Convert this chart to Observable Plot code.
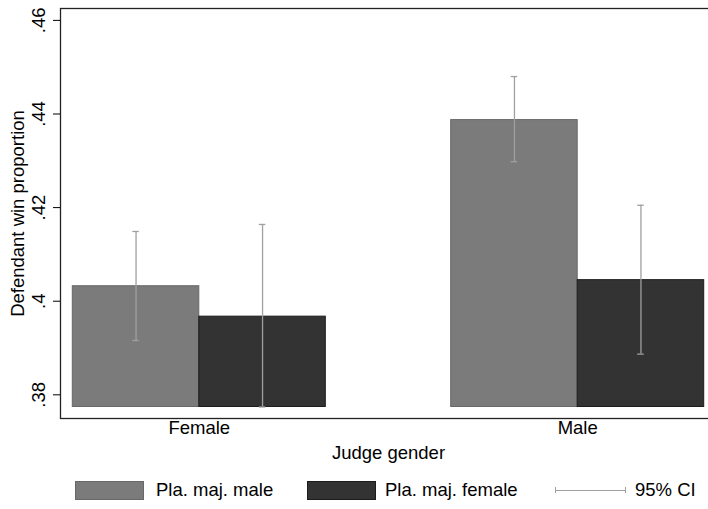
<!DOCTYPE html>
<html>
<head>
<meta charset="utf-8">
<script src="https://cdn.jsdelivr.net/npm/d3@7"></script>
<script src="https://cdn.jsdelivr.net/npm/@observablehq/plot@0.6"></script>
<style>
  html, body { margin: 0; padding: 0; background: #fff; }
  #wrap { position: relative; width: 708px; height: 509px; overflow: hidden;
          font-family: "Liberation Sans", Arial, Helvetica, sans-serif; color: #000; }
  #chart svg { max-width: none !important; display: block; }
  #legend { position: absolute; left: 0; top: 465px; width: 708px; height: 44px; font-size: 18.5px; }
  .sw { position: absolute; top: 16px; width: 69px; height: 19px; box-sizing: border-box; }
  .lab { position: absolute; top: 14px; line-height: 22px; white-space: nowrap; }
  .ci { position: absolute; top: 25px; height: 0; border-top: 1.3px solid #a0a0a0; }
  .cap { position: absolute; top: 22px; width: 0; height: 6px; border-left: 1.3px solid #a0a0a0; }
</style>
</head>
<body>
<div id="wrap">
  <div id="chart"></div>
  <div id="legend"></div>
</div>
<script>
// Defendant win proportion by judge gender and plaintiff-majority panel
const judgeGender = ["Female", "Male"];
const panelMajority = ["Pla. maj. male", "Pla. maj. female"];

const winMaleMaj = [0.4032, 0.4387];
const winFemaleMaj = [0.3967, 0.4045];
const ciLowMaleMaj = [0.3916, 0.4298];
const ciHighMaleMaj = [0.4149, 0.4480];
const ciLowFemaleMaj = [0.3774, 0.3887];
const ciHighFemaleMaj = [0.4164, 0.4205];

const barBase = 0.3774;
const yDomain = [0.37494, 0.46254];
const yTicks = [0.38, 0.40, 0.42, 0.44, 0.46];

const fillColors = ["#7b7b7b", "#333333"];
const edgeColors = ["#686868", "#1c1c1c"];
const ciColor = "#a0a0a0";
const fontSize = 18.5;

const rows = [];
judgeGender.forEach((j, i) => {
  rows.push({judge: j, panel: panelMajority[0], win: winMaleMaj[i], lo: ciLowMaleMaj[i], hi: ciHighMaleMaj[i]});
  rows.push({judge: j, panel: panelMajority[1], win: winFemaleMaj[i], lo: ciLowFemaleMaj[i], hi: ciHighFemaleMaj[i]});
});

// Stata-style labels: ".38", ".4", ".42"
const fmt = d => d3.format(".2f")(d).replace(/0$/, "").replace(/^0/, "");

const chart = Plot.plot({
  width: 716,
  height: 465,
  marginLeft: 60,
  marginRight: 0,
  marginTop: 8,
  marginBottom: 47,
  style: {fontFamily: '"Liberation Sans", Arial, Helvetica, sans-serif', fontSize: fontSize + "px", color: "#000", background: "#fff", maxWidth: "none"},
  fx: {domain: judgeGender, paddingInner: 0.2664, paddingOuter: 0, round: false},
  x: {domain: panelMajority, paddingInner: 0, paddingOuter: 0.0972, round: false, axis: null},
  y: {domain: yDomain},
  color: {domain: panelMajority, range: fillColors},
  marks: [
    Plot.barY(rows, {
      fx: "judge", x: "panel", y1: barBase, y2: "win",
      fill: "panel",
      stroke: d => edgeColors[panelMajority.indexOf(d.panel)],
      strokeWidth: 1
    }),
    Plot.ruleX(rows, {fx: "judge", x: "panel", y1: "lo", y2: "hi", stroke: ciColor, strokeWidth: 1.3}),
    Plot.tickY(rows, {fx: "judge", x: "panel", y: "lo", stroke: ciColor, strokeWidth: 1.3, insetLeft: 60, insetRight: 60}),
    Plot.tickY(rows, {fx: "judge", x: "panel", y: "hi", stroke: ciColor, strokeWidth: 1.3, insetLeft: 60, insetRight: 60}),
    Plot.frame({facet: "super", stroke: "#222", strokeWidth: 1.3}),
    Plot.axisY({
      ticks: yTicks, tickSize: 7, tickPadding: 14, tickRotate: -90,
      textAnchor: "middle", lineAnchor: "middle",
      tickFormat: fmt, label: null, stroke: "#000", fontSize
    }),
    Plot.text(["Defendant win proportion"], {
      facet: "super", frameAnchor: "left", rotate: -90, dx: -42,
      textAnchor: "middle", lineAnchor: "middle", fontSize
    }),
    Plot.axisFx({anchor: "bottom", tickSize: 0, tickPadding: 2, label: null, fontSize}),
    Plot.text(["Judge gender"], {
      facet: "super", frameAnchor: "bottom", dy: 34.5,
      textAnchor: "middle", lineAnchor: "middle", fontSize
    })
  ]
});
document.getElementById("chart").appendChild(chart);

// Legend: bar swatches and the confidence-interval symbol
const legend = document.getElementById("legend");
const items = [
  {type: "bar", fill: fillColors[0], edge: edgeColors[0], label: panelMajority[0], x: 75, tx: 156},
  {type: "bar", fill: fillColors[1], edge: edgeColors[1], label: panelMajority[1], x: 307, tx: 385},
  {type: "ci", label: "95% CI", x: 555, tx: 635}
];
for (const it of items) {
  if (it.type === "bar") {
    const s = document.createElement("div");
    s.className = "sw";
    s.style.left = it.x + "px";
    s.style.background = it.fill;
    s.style.border = "1px solid " + it.edge;
    legend.appendChild(s);
  } else {
    const l = document.createElement("div");
    l.className = "ci"; l.style.left = it.x + "px"; l.style.width = "71px";
    legend.appendChild(l);
    for (const cx of [it.x, it.x + 70]) {
      const c = document.createElement("div");
      c.className = "cap"; c.style.left = cx + "px";
      legend.appendChild(c);
    }
  }
  const t = document.createElement("div");
  t.className = "lab";
  t.style.left = it.tx + "px";
  t.textContent = it.label;
  legend.appendChild(t);
}
</script>
</body>
</html>
